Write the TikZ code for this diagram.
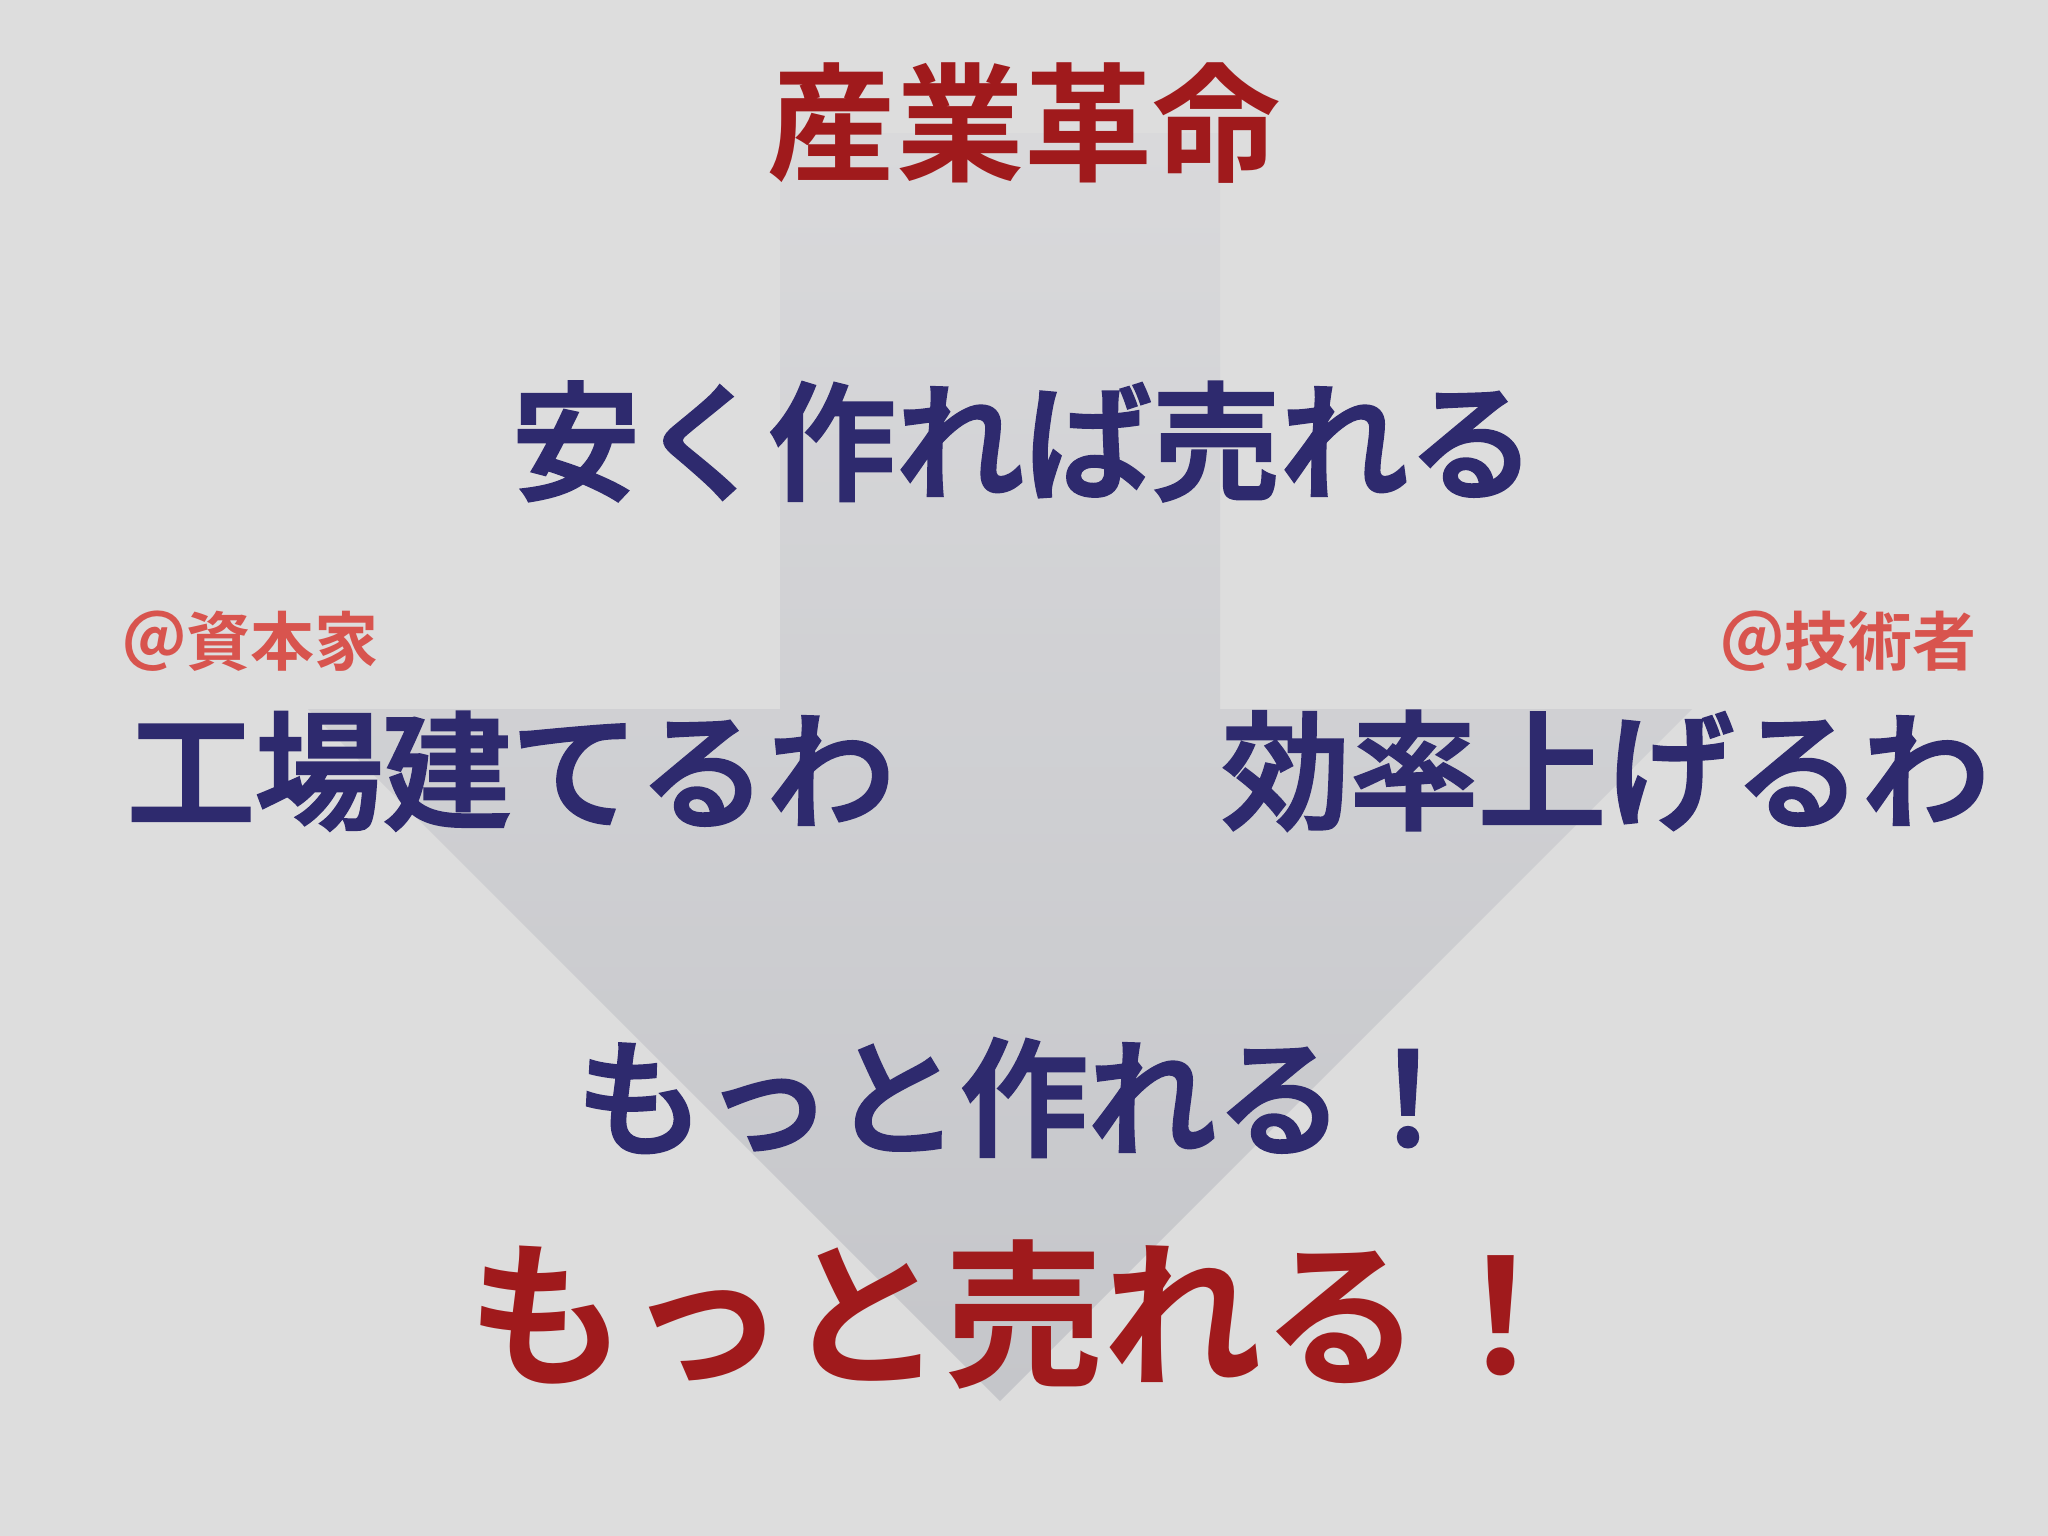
\documentclass[tikz,border=0pt]{standalone}
\usepackage{fontspec}
\newfontfamily\jpb{Noto Sans CJK JP Bold}
\newfontfamily\jpm{Noto Sans CJK JP Medium}[FakeBold=2.5]
\definecolor{bgc}{HTML}{DDDDDD}
\definecolor{titlered}{HTML}{A01A1C}
\definecolor{navy}{HTML}{2E2A6E}
\definecolor{coral}{HTML}{D8544E}
\definecolor{arrtop}{HTML}{D9D9DB}
\definecolor{arrbot}{HTML}{C5C6CA}
\tikzset{
  txt/.style={inner sep=0pt, outer sep=0pt, anchor=base},
  redtxt/.style={txt, text=titlered, font=\jpb\fontsize{36.4}{40}\selectfont},
  navytxt/.style={txt, text=navy, font=\jpm\fontsize{36.4}{40}\selectfont},
  hugetxt/.style={txt, text=titlered, font=\jpb\fontsize{45.2}{50}\selectfont},
  smalltxt/.style={txt, text=coral, font=\jpb\fontsize{18.2}{20}\selectfont},
}
\begin{document}
\begin{tikzpicture}[x=0.01cm, y=-0.01cm]
\fill[bgc] (0,0) rectangle (2048,1536);
\useasboundingbox (0,0) rectangle (2048,1536);
% big down arrow
\shade[top color=arrtop, bottom color=arrbot]
  (780,133) -- (1220,133) -- (1220,709) -- (1692,709) -- (1000,1401)
  -- (308,709) -- (780,709) -- cycle;
% texts
\node[redtxt] (title) at (1024,171) {産業革命};
\node[navytxt] (l1) at (1024,490) {安く作れば売れる};
\node[smalltxt, anchor=base west] (cap) at (122,665) {＠資本家};
\node[smalltxt, anchor=base east] (eng) at (1976,665) {＠技術者};
\node[navytxt, anchor=base west] (fac) at (127,819) {工場建てるわ};
\node[navytxt, anchor=base east] (eff) at (1990,819) {効率上げるわ};
\node[navytxt] (make) at (1024,1146) {もっと作れる！};
\node[hugetxt] (sell) at (1024,1374) {もっと売れる！};
\end{tikzpicture}
\end{document}
